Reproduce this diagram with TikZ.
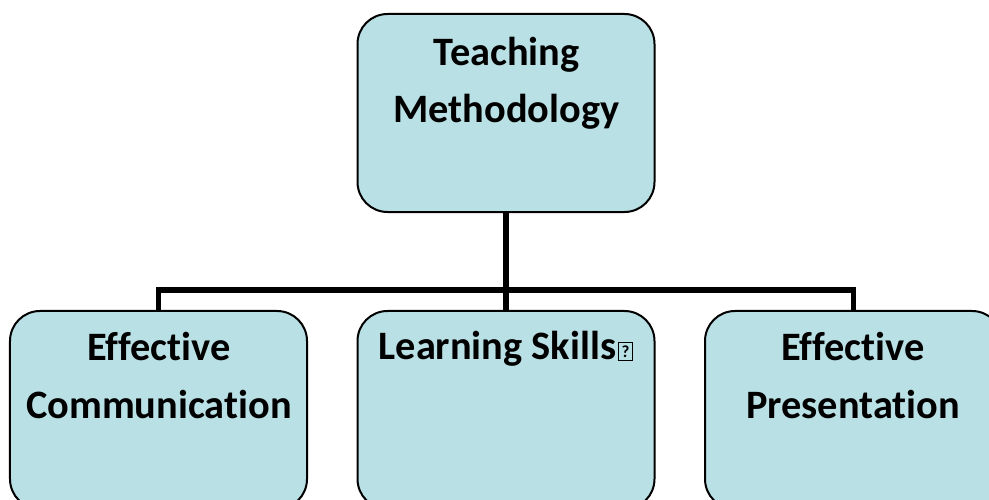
\documentclass[tikz,border=0pt]{standalone}
\usepackage{fontspec}
\setmainfont[Ligatures=NoCommon]{Carlito}
\definecolor{boxfill}{RGB}{185,224,228}
\newcommand{\tofubox}{\hspace{1.5pt}{\fboxrule=1.4pt\fboxsep=0pt\fbox{\makebox[13pt]{\rule{0pt}{17pt}\raisebox{2.5pt}{\fontsize{17}{17}\selectfont\bfseries ?}}}}}
\begin{document}
\begin{tikzpicture}[x=1bp,y=-1bp,
  box/.style={draw=black, line width=2bp, fill=boxfill, rounded corners=30bp,
    minimum width=297bp, minimum height=198bp, inner sep=0pt, anchor=north},
  lbl/.style={font=\fontsize{40.5}{58}\selectfont\bfseries, align=center, anchor=base, inner sep=0pt},
  conn/.style={draw=black, line width=5.5bp}]
\clip (0,0) rectangle (989,500);
\node[box] (top) at (506,13) {};
\node[box] (left) at (158.5,310) {};
\node[box] (mid) at (506,310) {};
\node[box] (right) at (853.5,310) {};
\node[lbl] (ttop) at (506.5,123) {Teaching\\Methodology};
\node[lbl] (tleft) at (159,418) {Effective\\Communication};
\node[lbl] (tmid) at (506,360) {Learning Skills\tofubox};
\node[lbl] (tright) at (853,418) {Effective\\Presentation};
\coordinate (bus) at (506,290);
\draw[conn] (top.south) -- (bus);
\draw[conn] (bus) -| (left.north);
\draw[conn] (bus) -- (mid.north);
\draw[conn] (bus) -| (right.north);
\end{tikzpicture}
\end{document}
